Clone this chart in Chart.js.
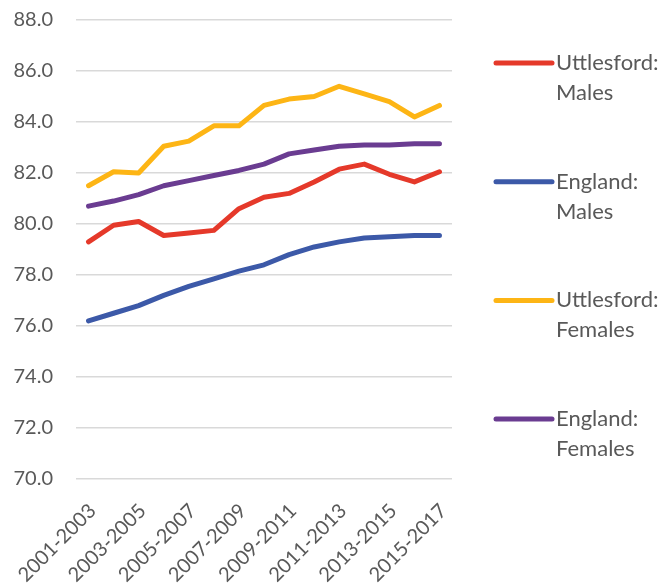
<!DOCTYPE html>
<html>
<head>
<meta charset="utf-8">
<script src="https://cdn.jsdelivr.net/npm/chart.js@4.4.1/dist/chart.umd.min.js"></script>
<style>
    html, body { margin: 0; padding: 0; background: #ffffff; }
    #wrap { width: 661px; height: 584px; }
</style>
</head>
<body>
<div id="wrap"><canvas id="lifeChart" width="661" height="584"></canvas></div>
<script>
(() => {
    const periods = [
        "2001-2003", "2002-2004", "2003-2005", "2004-2006", "2005-2007",
        "2006-2008", "2007-2009", "2008-2010", "2009-2011", "2010-2012",
        "2011-2013", "2012-2014", "2013-2015", "2014-2016", "2015-2017",
    ];

    const uttlesfordMales = [79.3, 79.95, 80.1, 79.55, 79.65, 79.75, 80.6, 81.05, 81.2, 81.65, 82.15, 82.35, 81.95, 81.65, 82.05];
    const englandMales = [76.2, 76.5, 76.8, 77.2, 77.55, 77.85, 78.15, 78.4, 78.8, 79.1, 79.3, 79.45, 79.5, 79.55, 79.55];
    const uttlesfordFemales = [81.5, 82.05, 82.0, 83.05, 83.25, 83.85, 83.85, 84.65, 84.9, 85.0, 85.4, 85.1, 84.8, 84.2, 84.65];
    const englandFemales = [80.7, 80.9, 81.15, 81.5, 81.7, 81.9, 82.1, 82.35, 82.75, 82.9, 83.05, 83.1, 83.1, 83.15, 83.15];

    const seriesNames = ["Uttlesford: Males", "England: Males", "Uttlesford: Females", "England: Females"];
    const seriesColors = ["#E5392A", "#3C59A8", "#FDB515", "#6A3C91"];
    const yMin = 70;
    const yMax = 88;
    const yStep = 2;

    const textColor = "#595959";
    const fontFamily = "Lato, 'Open Sans', sans-serif";

    const makeLine = (label, data, color) => ({
        label,
        data,
        borderColor: color,
        backgroundColor: color,
        borderWidth: 5,
        borderCapStyle: "round",
        borderJoinStyle: "round",
        pointRadius: 0,
        tension: 0,
        fill: false,
    });

    // Legend on the right: short line sample, label broken after the colon
    const sideLegend = {
        id: "sideLegend",
        afterDraw(chart) {
            const { ctx } = chart;
            const lineStart = 496;
            const lineEnd = 552;
            const textX = 556;
            const firstY = 63;
            const itemGap = 118.7;
            const lineGap = 30;

            ctx.save();
            ctx.font = "22px " + fontFamily;
            ctx.textBaseline = "middle";
            ctx.textAlign = "left";
            chart.data.datasets.forEach((ds, i) => {
                const y = firstY + i * itemGap;
                ctx.strokeStyle = ds.borderColor;
                ctx.lineWidth = 5;
                ctx.lineCap = "round";
                ctx.beginPath();
                ctx.moveTo(lineStart, y);
                ctx.lineTo(lineEnd, y);
                ctx.stroke();

                ctx.fillStyle = textColor;
                const parts = ds.label.split(": ");
                ctx.fillText(parts[0] + ":", textX, y);
                ctx.fillText(parts[1], textX, y + lineGap);
            });
            ctx.restore();
        },
    };

    new Chart(document.getElementById("lifeChart"), {
        type: "line",
        data: {
            labels: periods,
            datasets: [
                makeLine(seriesNames[0], uttlesfordMales, seriesColors[0]),
                makeLine(seriesNames[1], englandMales, seriesColors[1]),
                makeLine(seriesNames[2], uttlesfordFemales, seriesColors[2]),
                makeLine(seriesNames[3], englandFemales, seriesColors[3]),
            ],
        },
        options: {
            responsive: false,
            animation: false,
            layout: {
                padding: { top: 20, right: 209, bottom: 0, left: 0 },
            },
            plugins: {
                legend: { display: false },
                tooltip: { enabled: false },
            },
            scales: {
                x: {
                    offset: true,
                    grid: { display: false, drawTicks: false },
                    border: { display: false },
                    ticks: {
                        autoSkip: false,
                        maxRotation: 45,
                        minRotation: 45,
                        padding: 20,
                        labelOffset: 4,
                        color: textColor,
                        font: { family: fontFamily, size: 20 },
                        callback(value, index) {
                            return index % 2 === 0 ? this.getLabelForValue(value) : "";
                        },
                    },
                    afterFit(scale) {
                        // rotated labels may hang past the plot edge; keep the plot where it is
                        scale.height = 105;
                        scale.paddingLeft = 0;
                        scale.paddingRight = 0;
                    },
                },
                y: {
                    min: yMin,
                    max: yMax,
                    grid: {
                        color: "#D9D9D9",
                        lineWidth: 1.5,
                        drawTicks: true,
                        tickLength: 23,
                        tickColor: "rgba(0,0,0,0)",
                    },
                    border: { display: false },
                    ticks: {
                        stepSize: yStep,
                        padding: 0,
                        color: textColor,
                        font: { family: fontFamily, size: 20 },
                        callback: (value) => value.toFixed(1),
                    },
                    afterFit(scale) {
                        scale.width = 76;
                    },
                },
            },
        },
        plugins: [sideLegend],
    });
})();
</script>
</body>
</html>
